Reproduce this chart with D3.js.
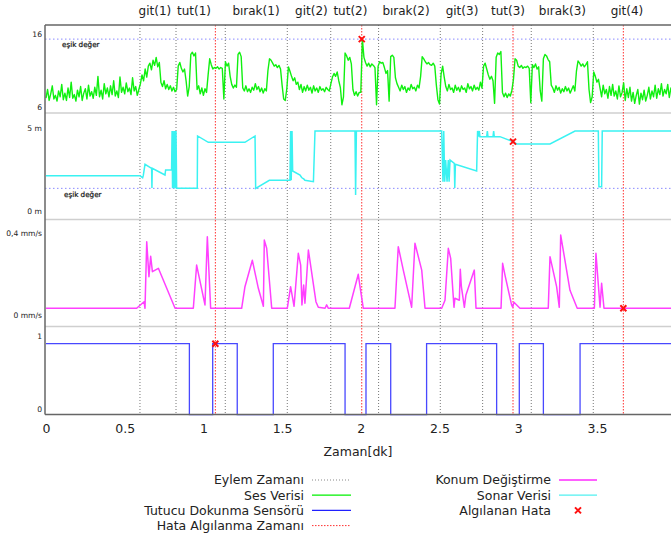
<!DOCTYPE html>
<html>
<head>
<meta charset="utf-8">
<script src="https://cdn.jsdelivr.net/npm/d3@7"></script>
<style>
  body { margin: 0; background: #fff; }
  svg { display: block; font-family: "DejaVu Sans", sans-serif; }
</style>
</head>
<body>
<svg id="chart" width="671" height="537"></svg>
<script>
// eylem (action) zamanlari, dakika
const eylemZamanlari = [0.597, 0.826, 1.139, 1.533, 1.809, 2.113, 2.505, 2.774, 3.083, 3.477];
// hata algilanma zamanlari
const hataZamanlari = [1.076, 2.006, 2.967, 3.668];

const eylemEtiketleri = ["git(1)", "tut(1)", "bırak(1)", "git(2)", "tut(2)", "bırak(2)", "git(3)", "tut(3)", "bırak(3)", "git(4)"];
const etiketZamanlari = [0.692, 0.94, 1.334, 1.686, 1.934, 2.287, 2.643, 2.935, 3.281, 3.691];

const xTicks = [0, 0.5, 1, 1.5, 2, 2.5, 3, 3.5];

const sesEsik = 15.3;
const sonarEsik = 1.4;

// ses verisi: her parca bir baslangic zamani ve 0.01 dk aralikli degerler
const sesParcalari = [
  [0.00, [7.2, 8.4, 6.9, 7.8, 8.9, 7.1, 7.6, 6.8, 8.2, 7.4,
          9.1, 7.0, 7.9, 6.9, 8.6, 7.3, 9.4, 7.2, 7.7, 6.8,
          8.3, 7.4, 8.8, 6.9, 7.9, 8.5, 7.1, 9.0, 7.5, 8.1,
          7.2, 8.7, 7.6, 10.2, 7.4, 8.3, 7.1, 9.2, 7.8, 8.6,
          7.4, 8.9, 7.7, 9.6, 7.5, 8.2, 7.3, 10.1, 8.0, 8.7,
          7.8, 9.3, 8.1, 8.6, 7.7, 10.0, 8.2, 8.8, 7.6, 8.4]],
  [0.60, [9.2, 10.4, 9.6, 11.2, 10.1, 11.6, 12.0, 11.1, 12.4, 11.7, 12.8,
          11.5, 12.1, 9.4, 8.8, 9.6, 8.5, 9.1, 8.4, 8.9, 8.2, 8.7, 8.1, 8.4]],
  [0.84, [11.6, 12.1, 11.3, 10.8, 11.2, 9.6, 7.5, 8.8, 13.2, 13.5, 13.0, 13.4,
          8.4, 8.9, 7.8, 8.6, 7.6, 8.5, 8.0]],
  [1.03, [10.4, 12.6, 11.8, 11.2, 11.4, 11.3, 11.5, 11.2, 11.4, 11.3, 7.1,
          12.2, 11.6, 12.0, 10.2, 9.1, 8.6, 9.0, 8.7, 13.2, 13.5, 12.9]],
  [1.25, [8.6, 8.2, 8.9, 8.1, 8.5, 8.0, 8.7, 8.3, 9.2, 8.4, 8.8, 8.1, 8.6, 7.9, 8.5,
          8.2, 11.0, 12.6, 12.4, 12.0, 11.6, 11.8, 11.4, 11.7, 11.2,
          9.0, 7.1, 6.9, 8.5, 11.5, 10.9, 10.2, 9.6, 10.0, 9.1, 9.4]],
  [1.61, [8.4, 9.1, 8.0, 8.8, 8.2, 9.0, 8.3, 8.7, 7.9, 8.9, 8.2, 8.6, 8.0, 8.8, 8.3, 8.5, 8.1, 8.7, 8.4, 8.2,
          9.2, 10.1, 10.6, 10.2, 10.8, 9.6, 8.7, 6.3, 7.4,
          13.4, 13.0, 12.4, 12.8, 11.9, 8.4, 7.6, 8.1, 7.5, 8.0, 8.0, 15.3]],
  [2.02, [12.8, 12.1, 11.6, 12.0, 11.5, 11.9, 11.7,
          11.4, 6.3, 11.6, 12.2, 12.0, 12.1, 11.4, 10.6, 11.0, 6.8, 12.9, 13.1, 12.8, 10.0, 9.2]],
  [2.24, [8.7, 8.2, 9.0, 8.4, 8.8, 8.0, 8.6, 8.3, 9.1, 8.5, 8.7, 8.2, 9.0, 8.6,
          10.2, 12.9, 12.6, 12.2, 11.9, 12.1, 11.8, 11.7, 12.0, 11.6,
          9.0, 7.0, 6.4, 10.5, 11.6, 10.1]],
  [2.54, [8.8, 8.2, 9.1, 8.4, 8.6, 8.0, 9.0, 8.3, 8.7, 8.1, 8.9, 8.4, 8.6, 8.0, 9.2, 8.5, 8.8, 8.2, 9.0, 8.4, 8.7, 8.3, 9.4, 8.6,
          11.6, 12.0, 11.2, 10.4, 9.8, 10.2, 9.6, 6.5, 12.8, 13.4, 13.2, 13.6,
          8.0, 7.4, 7.9, 7.3, 7.8, 7.5, 8.3]],
  [2.97, [9.8, 12.6, 12.4, 11.6, 11.4, 11.7, 11.3, 11.5, 11.4, 11.6, 11.3,
          6.6, 11.8, 11.4, 11.9, 11.2, 11.5, 8.2, 6.8,
          12.6, 13.2, 13.0, 12.5, 12.2, 9.0]],
  [3.22, [8.6, 8.0, 8.9, 8.3, 8.7, 7.9, 8.5, 8.1, 8.8, 8.2, 8.6, 7.9, 8.4, 8.9, 8.2,
          10.9, 12.3, 12.0, 11.6, 11.9, 11.5, 11.8, 12.2,
          8.4, 6.6, 7.4, 10.8, 10.2, 9.4, 9.8]],
  [3.52, [8.6, 7.4, 9.0, 7.8, 8.4, 7.2, 8.8, 7.6, 9.1, 7.5,
          8.2, 7.1, 8.9, 7.4, 8.0, 9.3, 6.9, 8.5, 7.3, 8.7,
          6.8, 8.0, 6.5, 7.6, 8.4, 6.4, 7.9, 7.0, 8.3, 6.8,
          7.6, 8.7, 7.1, 8.2, 7.4, 9.0, 7.2, 8.5, 7.7, 9.2,
          7.5, 8.4, 7.8, 9.1, 7.3, 8.6, 7.9, 8.8]]
];

// sonar verisi [dk, m]
const sonarVerisi = [
  [0, 2.16], [0.597, 2.16], [0.614, 2.04], [0.618, 2.16], [0.629, 2.84], [0.671, 2.6], [0.673, 1.42], [0.675, 2.6],
  [0.756, 2.2], [0.76, 2.5], [0.798, 2.5], [0.801, 4.84], [0.804, 1.4], [0.808, 4.84], [0.812, 1.4], [0.818, 4.84],
  [0.822, 1.4], [0.826, 4.84], [0.83, 1.4], [0.961, 1.4], [0.963, 4.54], [1.031, 4.16], [1.264, 4.16], [1.328, 4.54],
  [1.332, 1.4], [1.419, 1.88], [1.55, 1.88], [1.554, 4.84], [1.558, 1.88], [1.563, 4.84], [1.567, 2.44], [1.614, 2.2],
  [1.624, 2.05], [1.639, 1.95], [1.645, 1.88], [1.699, 1.8], [1.709, 4.84], [1.963, 4.84], [1.967, 1.0], [1.972, 4.84],
  [2.514, 4.84], [2.522, 1.8], [2.527, 4.84], [2.533, 1.8], [2.539, 3.1], [2.548, 1.8], [2.556, 3.1], [2.561, 1.8],
  [2.567, 3.1], [2.594, 2.9], [2.597, 1.42], [2.601, 2.85], [2.736, 2.44], [2.742, 4.84], [2.748, 4.5], [2.753, 4.84],
  [2.757, 4.5], [2.8, 4.5], [2.804, 4.84], [2.808, 4.5], [2.84, 4.5], [2.844, 4.84], [2.848, 4.5], [2.884, 4.5],
  [2.967, 4.2], [2.99, 4.06], [3.202, 4.06], [3.361, 4.84], [3.509, 4.84], [3.513, 1.5], [3.53, 1.5], [3.534, 4.84], [4, 4.84]
];

// konum degistirme [dk, mm/s]
const konumVerisi = [
  [0, 0], [0.576, 0], [0.623, 0.033], [0.629, 0], [0.64, 0.333], [0.654, 0.158], [0.665, 0.26], [0.676, 0.183],
  [0.714, 0.2], [0.82, 0], [0.936, 0], [0.957, 0.216], [1.01, 0.017], [1.025, 0.358], [1.046, 0], [1.243, 0],
  [1.264, 0.108], [1.311, 0.24], [1.349, 0.1], [1.381, 0.01], [1.387, 0.341], [1.402, 0.3], [1.434, 0], [1.533, 0],
  [1.554, 0.108], [1.576, 0.01], [1.603, 0.275], [1.618, 0.216], [1.626, 0.017], [1.637, 0.116], [1.645, 0.025],
  [1.667, 0.291], [1.715, 0.033], [1.73, 0.005], [1.773, 0], [1.783, 0.017], [1.794, 0], [1.927, 0], [1.984, 0.17],
  [1.995, 0.108], [2.016, 0], [2.217, 0], [2.238, 0.308], [2.27, 0.191], [2.323, 0.005], [2.344, 0.325], [2.387, 0.191],
  [2.408, 0], [2.514, 0], [2.535, 0.04], [2.556, 0.3], [2.571, 0.25], [2.592, 0.005], [2.598, 0.05], [2.626, 0.04],
  [2.632, 0.195], [2.639, 0.108], [2.658, 0.005], [2.668, 0.067], [2.721, 0.191], [2.732, 0], [2.891, 0], [2.901, 0.225],
  [2.916, 0.166], [2.958, 0.017], [2.965, 0.005], [2.973, 0.03], [3.011, 0], [3.191, 0], [3.202, 0.258], [3.244, 0.108],
  [3.261, 0.005], [3.27, 0.366], [3.329, 0.09], [3.375, 0], [3.484, 0], [3.494, 0.275], [3.52, 0.005], [3.53, 0.125],
  [3.545, 0], [4, 0]
];

// tutucu dokunma sensoru (0/1), basamak
const dokunmaVerisi = [
  [0, 1], [0.911, 0], [1.059, 1], [1.215, 0], [1.444, 1], [1.9, 0], [2.033, 1], [2.19, 0],
  [2.418, 1], [2.863, 0], [3.007, 1], [3.16, 0], [3.393, 1], [4, 1]
];

// algilanan hatalar
const hataPanelleri = ["ses", "dokunma", "sonar", "konum"];
const hataNoktalari = [[2.006, 15.3], [1.076, 1], [2.967, 4.2], [3.668, 0]];

const svg = d3.select("#chart");

const solX = 45, ustY = 25, altY = 414.5;
const x = d3.scaleLinear().domain([0, 4]).range([46, 675.6]);

const y = {
  ses: d3.scaleLinear().domain([6, 16]).range([107, 34]),
  sonar: d3.scaleLinear().domain([0, 5]).range([211.7, 128.3]),
  konum: d3.scaleLinear().domain([0, 0.4]).range([308.3, 228.3]),
  dokunma: d3.scaleLinear().domain([0, 1]).range([414.7, 343.7])
};

const yTicks = [
  { p: "ses", v: 16, t: "16", dy: 0 }, { p: "ses", v: 6, t: "6", dy: 0 },
  { p: "sonar", v: 5, t: "5 m", dy: 0 }, { p: "sonar", v: 0, t: "0 m", dy: 0 },
  { p: "konum", v: 0.4, t: "0,4 mm/s", dy: 5 }, { p: "konum", v: 0, t: "0 mm/s", dy: 7 },
  { p: "dokunma", v: 1, t: "1", dy: -7 }, { p: "dokunma", v: 0, t: "0", dy: -5.5 }
];

// panel ayirici cizgiler
[113, 219.5, 326.5].forEach(yy => {
  svg.append("line").attr("x1", solX).attr("x2", 671).attr("y1", yy).attr("y2", yy)
    .attr("stroke", "#cfcfcf").attr("stroke-width", 1.5);
});

// esik degerleri
svg.append("line").attr("x1", solX).attr("x2", 671).attr("y1", y.ses(sesEsik)).attr("y2", y.ses(sesEsik))
  .attr("stroke", "#8a8aff").attr("stroke-width", 1).attr("stroke-dasharray", "1.5,2.5");
svg.append("line").attr("x1", solX).attr("x2", 671).attr("y1", y.sonar(sonarEsik)).attr("y2", y.sonar(sonarEsik))
  .attr("stroke", "#8a8aff").attr("stroke-width", 1).attr("stroke-dasharray", "1.5,2.5");

svg.append("text").attr("x", 62).attr("y", 47).attr("font-size", 7.2)
  .attr("fill", "#111").attr("stroke", "#111").attr("stroke-width", 0.2).text("eşik değer");
svg.append("text").attr("x", 64).attr("y", 197).attr("font-size", 7.2)
  .attr("fill", "#111").attr("stroke", "#111").attr("stroke-width", 0.2).text("eşik değer");

// eylem ve hata zaman cizgileri
svg.selectAll(".eylem").data(eylemZamanlari).enter().append("line")
  .attr("x1", d => x(d)).attr("x2", d => x(d)).attr("y1", ustY).attr("y2", altY)
  .attr("stroke", "#777").attr("stroke-width", 1).attr("stroke-dasharray", "1,2");
svg.selectAll(".hata").data(hataZamanlari).enter().append("line")
  .attr("x1", d => x(d)).attr("x2", d => x(d)).attr("y1", ustY).attr("y2", altY)
  .attr("stroke", "#ff3030").attr("stroke-width", 1).attr("stroke-dasharray", "1.5,1.5");

// veri cizgileri
const sesNoktalari = [];
sesParcalari.forEach(([t0, vals]) => {
  vals.forEach((v, i) => sesNoktalari.push([t0 + i * 0.01, v]));
});

const cizgi = (panel) => d3.line().x(d => x(d[0])).y(d => y[panel](d[1]));

svg.append("path").datum(sesNoktalari).attr("fill", "none").attr("stroke", "#10f010")
  .attr("stroke-width", 1.4).attr("stroke-linejoin", "round").attr("d", cizgi("ses"));
svg.append("path").datum(sonarVerisi).attr("fill", "none").attr("stroke", "#3af2f2")
  .attr("stroke-width", 1.5).attr("d", cizgi("sonar"));
svg.append("path").datum(konumVerisi).attr("fill", "none").attr("stroke", "#ff40ff")
  .attr("stroke-width", 1.5).attr("stroke-linejoin", "round").attr("d", cizgi("konum"));
svg.append("path").datum(dokunmaVerisi).attr("fill", "none").attr("stroke", "#4848ff")
  .attr("stroke-width", 1.3).attr("d", cizgi("dokunma").curve(d3.curveStepAfter));

// eksenler / cerceve
svg.append("line").attr("x1", solX).attr("x2", 671).attr("y1", ustY).attr("y2", ustY)
  .attr("stroke", "#666").attr("stroke-width", 1.5);
svg.append("line").attr("x1", solX).attr("x2", 671).attr("y1", altY).attr("y2", altY)
  .attr("stroke", "#666").attr("stroke-width", 1.5);
svg.append("line").attr("x1", solX).attr("x2", solX).attr("y1", ustY).attr("y2", altY)
  .attr("stroke", "#666").attr("stroke-width", 1.5);

// y etiketleri
svg.selectAll(".ytick").data(yTicks).enter().append("text")
  .attr("x", 42).attr("y", d => y[d.p](d.v) + d.dy)
  .attr("dy", "0.35em").attr("text-anchor", "end")
  .attr("font-size", 7.6).attr("fill", "#222")
  .text(d => d.t);

// x ekseni
const xAxis = d3.axisBottom(x).tickValues(xTicks).tickSize(0).tickPadding(10).tickFormat(d3.format("~g"));
const gx = svg.append("g").attr("transform", "translate(0," + altY + ")").call(xAxis);
gx.select(".domain").remove();
gx.selectAll("text").attr("font-family", "DejaVu Sans").attr("font-size", 12.5).attr("fill", "#222");

svg.append("text").attr("x", 358).attr("y", 456).attr("text-anchor", "middle")
  .attr("font-size", 12.5).attr("fill", "#222").text("Zaman[dk]");

// ust etiketler
svg.selectAll(".etiket").data(eylemEtiketleri).enter().append("text")
  .attr("x", (d, i) => x(etiketZamanlari[i])).attr("y", 15).attr("text-anchor", "middle")
  .attr("font-size", 12).attr("fill", "#222").text(d => d);

// hata isaretleri
const hataG = svg.selectAll(".hx").data(hataNoktalari).enter().append("g")
  .attr("transform", (d, i) => "translate(" + x(d[0]) + "," + y[hataPanelleri[i]](d[1]) + ")");
hataG.append("path").attr("d", "M-3,-3L3,3M-3,3L3,-3").attr("stroke", "#ff1010").attr("stroke-width", 2);

// lejant
const lejantSol = [
  { t: "Eylem Zamanı", c: "#888", dash: "1,2", w: 1 },
  { t: "Ses Verisi", c: "#00f000", dash: null, w: 1.2 },
  { t: "Tutucu Dokunma Sensörü", c: "#2020ff", dash: null, w: 1.2 },
  { t: "Hata Algılanma Zamanı", c: "#ff3030", dash: "1.5,1.5", w: 1 }
];
const lejantSag = [
  { t: "Konum Değiştirme", c: "#ff60ff", dash: null, w: 2 },
  { t: "Sonar Verisi", c: "#50f0f0", dash: null, w: 1.2 },
  { t: "Algılanan Hata", c: "#ff1010", marker: true }
];

function lejant(items, textX, x1, x2) {
  items.forEach((d, i) => {
    const yy = 480 + i * 15.2;
    svg.append("text").attr("x", textX).attr("y", yy).attr("dy", "0.35em").attr("text-anchor", "end")
      .attr("font-size", 12.5).attr("fill", "#222").text(d.t);
    if (d.marker) {
      const mx = (x1 + x2) / 2;
      svg.append("path").attr("d", "M" + (mx - 3) + "," + (yy - 3) + "L" + (mx + 3) + "," + (yy + 3) +
        "M" + (mx - 3) + "," + (yy + 3) + "L" + (mx + 3) + "," + (yy - 3))
        .attr("stroke", d.c).attr("stroke-width", 2);
    } else {
      svg.append("line").attr("x1", x1).attr("x2", x2).attr("y1", yy).attr("y2", yy)
        .attr("stroke", d.c).attr("stroke-width", d.w).attr("stroke-dasharray", d.dash);
    }
  });
}
lejant(lejantSol, 304, 312, 351);
lejant(lejantSag, 551, 559, 597);
</script>
</body>
</html>
